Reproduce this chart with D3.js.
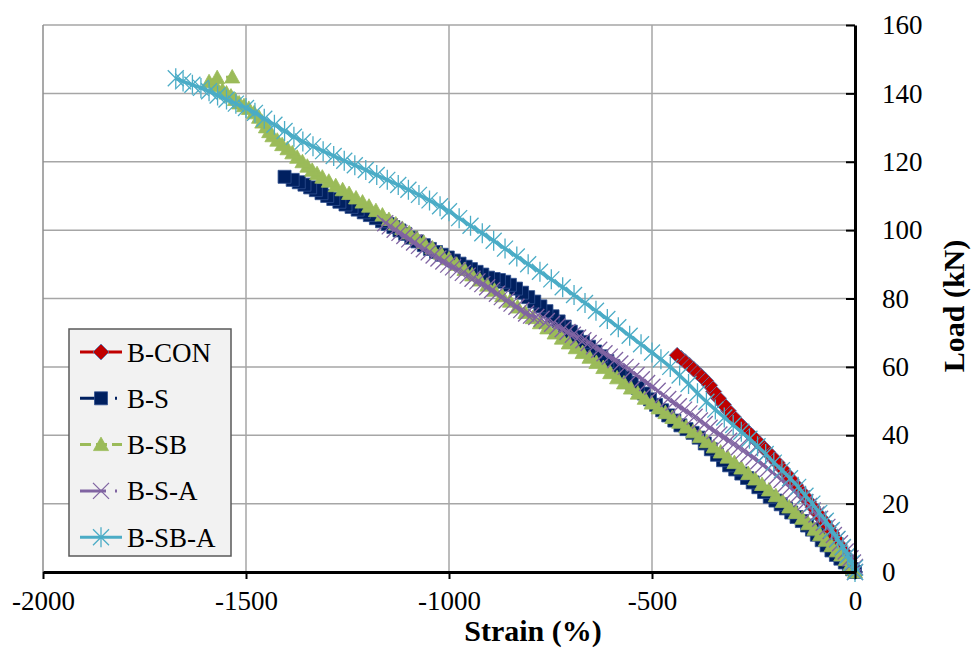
<meta charset="utf-8">
<script src="https://d3js.org/d3.v7.min.js"></script>

<style>
  body { margin: 0; background: #fff; }
  svg text {
    font-family: "Liberation Serif", serif;
    fill: #000;
  }
</style>

<body>
<script>
  // strain (%) , load (kN) pairs
  const seriesNames = ["B-CON", "B-S", "B-SB", "B-S-A", "B-SB-A"];
  const xTicks = [-2000, -1500, -1000, -500, 0];
  const yTicks = [0, 20, 40, 60, 80, 100, 120, 140, 160];

  const bCon = [[0,0],[-4,1],[-9,2.2],[-15,3.3],[-22,4.6],[-30,6.2],[-39,8],[-48,9.8],[-57,11.4],[-66,13],
    [-75,14.4],[-84,15.8],[-94,17.4],[-104,19],[-114,20.6],[-124,22.2],[-135,23.8],[-146,25.4],[-157,27],
    [-168,28.6],[-180,30.3],[-192,32],[-204,33.7],[-216,35.2],[-228,36.7],[-240,38.2],[-252,39.6],[-264,41],
    [-276,42.4],[-288,43.8],[-300,45.4],[-312,47.2],[-324,49],[-336,50.8],[-348,52.8],[-358,54.6],[-368,56],
    [-378,57.2],[-388,58.3],[-398,59.4],[-408,60.5],[-418,61.5],[-428,62.5],[-438,63.4]];

  const bS = [[0,0],[-7,0.8],[-15,1.7],[-25,2.8],[-36,3.9],[-47,5],[-58,6.3],[-70,7.8],[-82,9.3],[-94,10.9],
    [-106,12.4],[-118,13.6],[-131,14.9],[-144,16.1],[-157,17.4],[-170,18.6],[-183,19.8],[-196,20.9],[-210,22],
    [-224,23.4],[-238,24.8],[-252,26.2],[-266,27.5],[-280,28.8],[-295,30],[-310,31.2],[-325,32.7],[-340,34.3],
    [-355,35.9],[-370,37.6],[-385,39.3],[-400,40.7],[-415,41.8],[-430,42.9],[-445,44.3],[-460,45.8],[-475,47.3],
    [-490,48.9],[-505,50.5],[-520,52.2],[-535,53.8],[-550,55.4],[-565,57],[-580,58.6],[-595,60.2],[-610,61.7],
    [-625,63.1],[-640,64.5],[-655,65.9],[-670,67.3],[-685,68.8],[-700,70.3],[-715,71.8],[-730,73.3],[-745,74.8],
    [-760,76.3],[-775,77.7],[-790,79.1],[-805,80.4],[-820,81.7],[-835,82.9],[-850,84],[-864,84.9],[-877,85.4],
    [-890,85.7],[-904,86.1],[-918,87],[-932,87.8],[-946,88.6],[-959,89.3],[-974,90.2],[-988,91.1],[-1003,92],
    [-1018,92.8],[-1032,93.6],[-1047,94.5],[-1062,95.6],[-1078,96.7],[-1093,97.8],[-1108,98.9],[-1122,99.9],
    [-1137,100.9],[-1151,101.8],[-1165,102.6],[-1180,103.5],[-1195,104.4],[-1210,105.2],[-1225,106],[-1240,106.8],
    [-1255,107.5],[-1270,108.3],[-1285,109.1],[-1300,110],[-1314,110.8],[-1328,111.7],[-1342,112.5],[-1356,113.3],
    [-1370,114],[-1385,114.7],[-1405,115.6]];

  const bSB = [[0,0],[-5,0.9],[-12,2],[-23,3.6],[-34,5],[-45,6.2],[-58,7.7],[-72,9.3],[-86,10.9],[-100,12.5],
    [-115,14.1],[-130,15.7],[-146,17.4],[-162,19],[-178,20.6],[-195,22.3],[-212,24],[-229,25.6],[-246,27.2],
    [-263,28.8],[-280,30.4],[-297,32],[-314,33.6],[-331,35.1],[-348,36.6],[-365,38.1],[-382,39.6],[-399,41],
    [-416,42.4],[-433,43.8],[-450,45.2],[-467,46.6],[-484,48],[-501,49.4],[-518,50.8],[-535,52.3],[-552,53.8],
    [-569,55.3],[-586,56.8],[-603,58.3],[-620,59.8],[-637,61.3],[-654,62.8],[-671,64.2],[-688,65.6],[-705,67],
    [-722,68.4],[-740,69.9],[-758,71.4],[-776,72.9],[-794,74.4],[-812,75.9],[-831,77.5],[-850,79.2],[-869,80.8],
    [-888,82.4],[-906,83.9],[-924,85.4],[-943,86.9],[-962,88.5],[-981,90],[-1000,91.6],[-1020,93.2],[-1041,94.8],
    [-1062,96.4],[-1080,97.8],[-1098,99.2],[-1115,100.5],[-1131,101.8],[-1148,103.1],[-1164,104.4],[-1180,105.7],
    [-1197,107],[-1213,108.2],[-1229,109.4],[-1246,110.7],[-1262,111.8],[-1279,113],[-1296,114.3],[-1312,115.5],
    [-1325,116.5],[-1337,117.5],[-1349,118.7],[-1361,120],[-1374,121.3],[-1386,122.6],[-1398,123.8],[-1411,125],
    [-1423,126.3],[-1435,127.6],[-1443,128.8],[-1451,130.2],[-1460,131.6],[-1468,133],[-1480,134.3],[-1493,135.6],
    [-1505,136.4],[-1517,137.2],[-1527,138.2],[-1537,139.2],[-1548,140.1],[-1558,140.9],[-1575,142.2],[-1591,143.4],
    [-1571,144.6],[-1534,144.8]];

  const bSA = [[0,0],[0,1.5],[-5,2.8],[-11,4],[-17,5],[-23,6],[-30,7.2],[-37,8.4],[-44,9.6],[-52,10.8],[-60,12],
    [-68,13.2],[-77,14.4],[-86,15.6],[-95,16.8],[-104,18],[-113,19.3],[-122,20.4],[-131,21.5],[-140,22.6],
    [-150,23.7],[-160,24.8],[-170,25.8],[-181,26.9],[-192,28],[-203,29.1],[-214,30.2],[-226,31.3],[-238,32.4],
    [-250,33.5],[-262,34.5],[-274,35.5],[-286,36.5],[-298,37.4],[-310,38.4],[-322,39.3],[-334,40.2],[-346,41.2],
    [-358,42.2],[-370,43.3],[-382,44.3],[-395,45.4],[-408,46.4],[-421,47.5],[-434,48.5],[-447,49.6],[-460,50.6],
    [-473,51.8],[-486,53],[-499,54.2],[-512,55.3],[-525,56.4],[-538,57.6],[-551,58.8],[-565,60],[-578,61],
    [-591,62],[-604,63],[-617,64],[-630,65],[-643,66],[-656,67],[-669,67.8],[-682,68.6],[-695,69.4],[-708,70.2],
    [-720,71],[-733,71.8],[-746,72.6],[-759,73.4],[-772,74.1],[-785,74.6],[-798,75],[-810,75.6],[-822,76.6],
    [-834,77.6],[-846,78.5],[-858,79.4],[-870,80.4],[-882,81.4],[-894,82.4],[-906,83.3],[-918,84.2],[-930,85],
    [-942,85.8],[-954,86.7],[-966,87.5],[-978,88.3],[-990,89.1],[-1002,89.9],[-1014,90.8],[-1026,91.7],[-1038,92.6],
    [-1050,93.5],[-1062,94.4],[-1074,95.4],[-1086,96.4],[-1098,97.3],[-1110,98.3],[-1122,99.2],[-1134,100.1],
    [-1146,101.1],[-1157,102]];

  const bSBA = [[0,0],[0,1.2],[-8,2.6],[-18,4.9],[-30,7.3],[-43,9.7],[-57,12.3],[-72,15],[-88,17.3],[-105,20],
    [-122,22.3],[-140,24.9],[-160,27.4],[-180,29.8],[-200,32],[-220,34.5],[-240,36.8],[-260,39],[-280,41],
    [-300,43],[-322,45.2],[-344,47.5],[-366,49.8],[-388,52.3],[-410,55],[-432,57.5],[-455,60],[-478,62.2],
    [-500,64.2],[-527,66.6],[-555,69.1],[-583,71.6],[-610,74],[-638,76.4],[-665,78.7],[-692,81],[-720,83.3],
    [-748,85.6],[-776,87.8],[-805,90],[-833,92.3],[-862,94.6],[-890,96.9],[-918,99.1],[-947,101.3],[-975,103.5],
    [-1000,105.5],[-1022,107],[-1048,108.7],[-1074,110.3],[-1100,111.8],[-1125,113.2],[-1152,114.7],[-1178,116.1],
    [-1205,117.6],[-1232,119],[-1258,120.3],[-1284,121.7],[-1310,123.1],[-1335,124.5],[-1360,125.9],[-1382,127.3],
    [-1405,129],[-1430,130.8],[-1455,132.6],[-1478,134.3],[-1500,135.7],[-1525,137],[-1548,138.2],[-1570,139.4],
    [-1591,140.6],[-1611,141.6],[-1632,142.5],[-1655,143.5],[-1673,144.4]];

  const seriesData = [bCon, bS, bSB, bSA, bSBA];

  // look of each series (same order as seriesNames)
  const looks = [
    { color: "#c00000", edge: "#4f81bd", dash: null,       marker: "diamond", lw: 3 },
    { color: "#002060", edge: "#2f4f8f", dash: "26,9,2,9", marker: "square",  lw: 3 },
    { color: "#9bbb59", edge: "#9bbb59", dash: "11,5",     marker: "triangle", lw: 3 },
    { color: "#8064a2", edge: "#8064a2", dash: "26,9,2,9", marker: "x",       lw: 3 },
    { color: "#4bacc6", edge: "#4bacc6", dash: null,       marker: "star",    lw: 3.5 }
  ];

  const markerPaths = {
    diamond: "M0,-8L8,0L0,8L-8,0Z",
    square: "M-6.5,-6.5h13v13h-13Z",
    triangle: "M0,-7.5L7.5,6L-7.5,6Z",
    x: "M-8,-8L8,8M-8,8L8,-8",
    star: "M-8,-8L8,8M-8,8L8,-8M0,-10L0,10"
  };

  const serif = "'Liberation Serif', serif";
  const width = 971, height = 659;
  const plotLeft = 43, plotRight = 855, plotTop = 25, plotBottom = 572;

  const svg = d3.select("body").append("svg")
    .attr("width", width)
    .attr("height", height);

  const x = d3.scaleLinear().domain([-2000, 0]).range([plotLeft, plotRight]);
  const y = d3.scaleLinear().domain([0, 160]).range([plotBottom, plotTop]);

  // gridlines
  svg.append("g").selectAll("line")
    .data(yTicks.filter(d => d > 0))
    .enter().append("line")
    .attr("x1", plotLeft).attr("x2", plotRight)
    .attr("y1", d => y(d)).attr("y2", d => y(d))
    .attr("stroke", "#a6a6a6").attr("stroke-width", 1.5);

  svg.append("g").selectAll("line")
    .data(xTicks.filter(d => d < 0))
    .enter().append("line")
    .attr("x1", d => x(d)).attr("x2", d => x(d))
    .attr("y1", plotTop).attr("y2", plotBottom)
    .attr("stroke", d => d == -2000 ? "#8c8c8c" : "#a6a6a6")
    .attr("stroke-width", 1.5);

  // series: line then markers, in legend order
  const line = d3.line().x(d => x(d[0])).y(d => y(d[1]));

  seriesData.forEach(function(data, i) {
    const look = looks[i];
    const g = svg.append("g");

    g.append("path")
      .datum(data)
      .attr("d", line)
      .attr("fill", "none")
      .attr("stroke", look.color)
      .attr("stroke-width", look.lw)
      .attr("stroke-dasharray", look.dash);

    const filled = look.marker == "diamond" || look.marker == "square" || look.marker == "triangle";
    g.selectAll("path.mk")
      .data(data)
      .enter().append("path")
      .attr("class", "mk")
      .attr("transform", d => "translate(" + x(d[0]) + "," + y(d[1]) + ")")
      .attr("d", markerPaths[look.marker])
      .attr("fill", filled ? look.color : "none")
      .attr("stroke", look.edge)
      .attr("stroke-width", filled ? 0.8 : 1.3);
  });

  // x axis
  const xAxis = svg.append("g")
    .attr("transform", "translate(0," + plotBottom + ")")
    .call(d3.axisBottom(x).tickValues(xTicks).tickFormat(d => String(d))
      .tickSize(7).tickSizeOuter(0).tickPadding(12));
  xAxis.attr("font-family", serif);
  xAxis.select(".domain").attr("stroke", "#000").attr("stroke-width", 3);
  xAxis.selectAll(".tick line").attr("stroke", "#000").attr("stroke-width", 2);
  xAxis.selectAll(".tick text")
    .style("font-family", serif)
    .style("font-size", "27px");

  // y axis on the right, ticks pointing in
  const yAxis = svg.append("g")
    .attr("transform", "translate(" + plotRight + ",0)")
    .call(d3.axisRight(y).tickValues(yTicks).tickFormat(d => String(d))
      .tickSize(-9).tickSizeOuter(0).tickPadding(27));
  yAxis.attr("font-family", serif);
  yAxis.select(".domain").attr("stroke", "#000").attr("stroke-width", 3);
  yAxis.selectAll(".tick line").attr("stroke", "#000").attr("stroke-width", 2);
  yAxis.selectAll(".tick text")
    .style("font-family", serif)
    .style("font-size", "27px");

  // axis titles
  svg.append("text")
    .attr("x", 533).attr("y", 641)
    .attr("text-anchor", "middle")
    .style("font-family", serif)
    .style("font-size", "30px").style("font-weight", "bold")
    .text("Strain (%)");

  svg.append("text")
    .attr("transform", "translate(964,306) rotate(-90)")
    .attr("text-anchor", "middle")
    .style("font-family", serif)
    .style("font-size", "30px").style("font-weight", "bold")
    .text("Load (kN)");

  // legend
  const legend = svg.append("g");
  legend.append("rect")
    .attr("x", 69).attr("y", 329)
    .attr("width", 162).attr("height", 227)
    .attr("fill", "#f2f2f2")
    .attr("stroke", "#595959").attr("stroke-width", 1.5);

  const item = legend.selectAll("g.item")
    .data(seriesNames)
    .enter().append("g")
    .attr("class", "item")
    .attr("transform", (d, i) => "translate(0," + (352 + i * 46.3) + ")");

  item.append("line")
    .attr("x1", 80).attr("x2", 122)
    .attr("stroke", (d, i) => looks[i].color)
    .attr("stroke-width", 3)
    .attr("stroke-dasharray", (d, i) => looks[i].dash);

  item.append("path")
    .attr("transform", "translate(101,0)")
    .attr("d", (d, i) => markerPaths[looks[i].marker])
    .attr("fill", (d, i) => ["x", "star"].includes(looks[i].marker) ? "none" : looks[i].color)
    .attr("stroke", (d, i) => looks[i].edge)
    .attr("stroke-width", (d, i) => ["x", "star"].includes(looks[i].marker) ? 1.3 : 0.8);

  item.append("text")
    .attr("x", 127).attr("y", 9.5)
    .style("font-family", serif)
    .style("font-size", "27px")
    .text(d => d);
</script>
</body>
